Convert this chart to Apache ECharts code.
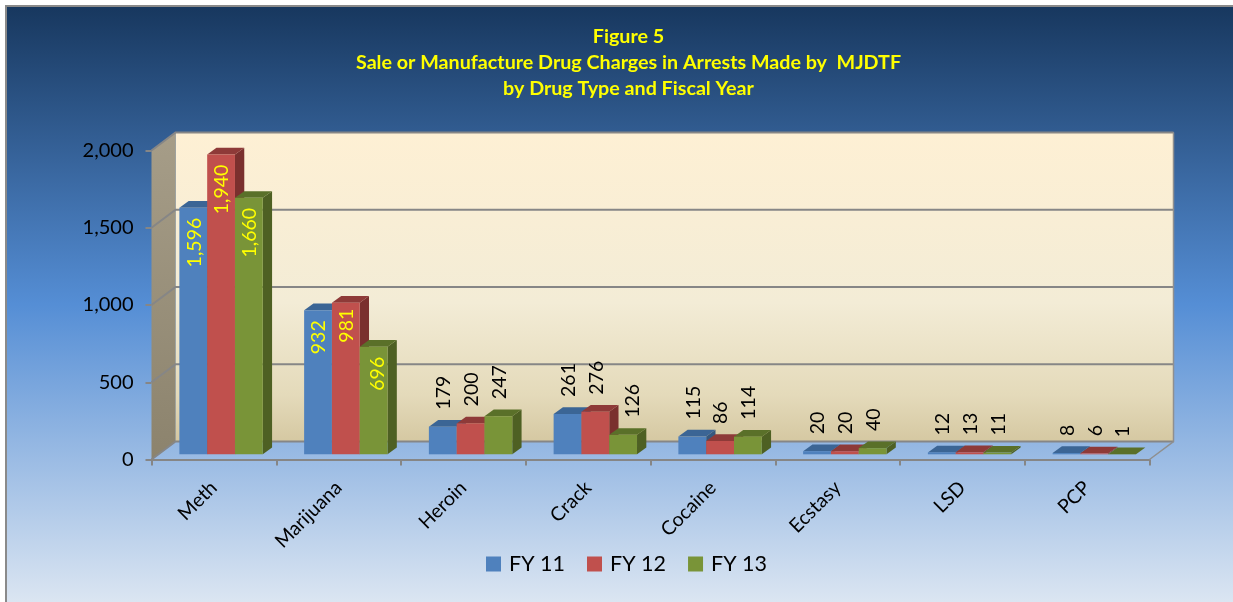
<!DOCTYPE html>
<html>
<head>
<meta charset="utf-8">
<style>html,body{margin:0;padding:0;background:#fff}#c{width:1233px;height:602px}</style>
<script src="https://cdn.jsdelivr.net/npm/echarts@6/dist/echarts.min.js"></script>
</head>
<body>
<div id="c"></div>
<script>
const categories = ['Meth','Marijuana','Heroin','Crack','Cocaine','Ecstasy','LSD','PCP'];
const fy11 = [1596,932,179,261,115,20,12,8];
const fy12 = [1940,981,200,276,86,20,13,6];
const fy13 = [1660,696,247,126,114,40,11,1];
const yTicks = [0,500,1000,1500,2000];
const seriesNames = ['FY 11','FY 12','FY 13'];

const FONT = 'Lato, "Open Sans", sans-serif';
const WALL_DX = 24, WALL_DY = 18;
const BAR_W = 27.8, BAR_DX = 7.2, BAR_DY = 5.2, SIDE_DX = 9.3, SIDE_DY = 6.7;
const GRAY = '#868686';
// hand-moved labels in the original: "series,category" -> [dx, dy]
const LABEL_NUDGE = {'2,3':[9,0],'2,1':[3,0],'1,1':[0,-4]};
const vgrad = (stops) => new echarts.graphic.LinearGradient(0,0,0,1,stops.map((c,i)=>({offset:c[0],color:c[1]})));

function poly(points, fill){
  return {type:'polygon',shape:{points},style:{fill,lineWidth:0}};
}

function renderWalls(params, api){
  const slot = api.size([1,0])[0];
  const x0 = api.coord([0,0])[0]-slot/2;
  const x1 = api.coord([categories.length-1,0])[0]+slot/2;
  const y0 = api.coord([0,0])[1];
  const yT = api.coord([0,2000])[1];
  const children = [];
  children.push(poly([[x0+WALL_DX,yT-WALL_DY],[x1+WALL_DX,yT-WALL_DY],[x1+WALL_DX,y0-WALL_DY],[x0+WALL_DX,y0-WALL_DY]],
    vgrad([[0,'#FEF0D4'],[0.55,'#F3ECD6'],[0.85,'#E4DABA'],[1,'#D5C8A2']])));
  children.push(poly([[x0,yT],[x0+WALL_DX,yT-WALL_DY],[x0+WALL_DX,y0-WALL_DY],[x0,y0]],
    vgrad([[0,'#A69D88'],[1,'#8C836D']])));
  yTicks.forEach(v=>{
    const y = api.coord([0,v])[1];
    children.push({type:'polyline',shape:{points:[[x0,y],[x0+WALL_DX,y-WALL_DY],[x1+WALL_DX,y-WALL_DY]]},
      style:{fill:null,stroke:GRAY,lineWidth:2}});
  });
  children.push({type:'polyline',shape:{points:[[x1,y0],[x1+WALL_DX,y0-WALL_DY],[x1+WALL_DX,yT-WALL_DY]]},
    style:{fill:null,stroke:'#8f8f8f',lineWidth:1.5}});
  return {type:'group',children};
}

const palettes = [
  {front:'#4F81BD',top:'#3B6595',side:'#35587F'},
  {front:'#C0504D',top:'#8E3A38',side:'#7A302E'},
  {front:'#799438',top:'#5A7029',side:'#4E6023'}
];

function makeBars(idx){
  const p = palettes[idx];
  return function(params, api){
    const i = api.value(0), v = api.value(1);
    const c = api.coord([i,v]), b = api.coord([i,0]);
    const xL = c[0]+BAR_DX+(idx-1.5)*BAR_W, xR = xL+BAR_W;
    const yB = b[1]-BAR_DY, yTop = c[1]-BAR_DY;
    const nudge = LABEL_NUDGE[idx+','+i]||[0,0];
    const xC = (xL+xR)/2+1+nudge[0];
    const inside = v>=500;
    return {type:'group',children:[
      poly([[xR,yTop],[xR+SIDE_DX,yTop-SIDE_DY],[xR+SIDE_DX,yB-SIDE_DY],[xR,yB]],p.side),
      poly([[xL,yTop],[xL+SIDE_DX,yTop-SIDE_DY],[xR+SIDE_DX,yTop-SIDE_DY],[xR,yTop]],p.top),
      poly([[xL,yTop],[xR,yTop],[xR,yB],[xL,yB]],p.front),
      {type:'text',z2:10,x:xC,y:(inside?yTop+10:yTop-17)+nudge[1],rotation:Math.PI/2,
        style:{text:v.toLocaleString('en-US'),font:'19.5px '+FONT,fill:inside?'#FFFF00':'#000',
          textAlign:inside?'right':'left',textVerticalAlign:'middle'}}
    ]};
  };
}

const chart = echarts.init(document.getElementById('c'),null,{renderer:'canvas'});
const valueSets = [fy11,fy12,fy13];
chart.setOption({
  animation:false,
  backgroundColor:'#fff',
  graphic:[{type:'rect',z:-1,left:5,top:5,shape:{width:1228,height:597},
    style:{fill:vgrad([[0,'#17375E'],[0.5,'#558ED5'],[1,'#DCE6F2']]),stroke:'#8a8a8a',lineWidth:2}}],
  title:{text:'Figure 5\nSale or Manufacture Drug Charges in Arrests Made by  MJDTF\nby Drug Type and Fiscal Year',
    left:623.5,top:19,textAlign:'center',
    textStyle:{color:'#FFFF00',fontFamily:FONT,fontWeight:'bold',fontSize:19.7,lineHeight:26}},
  legend:{data:seriesNames,left:481,top:548,icon:'rect',itemWidth:15,itemHeight:15,itemGap:22,
    textStyle:{color:'#000',fontFamily:FONT,fontSize:21.5,padding:[0,0,0,3]},selectedMode:false},
  grid:{left:151.5,top:150.5,width:998,height:309,containLabel:false},
  xAxis:{type:'category',data:categories,boundaryGap:true,
    axisLine:{show:true,onZero:false,lineStyle:{color:GRAY,width:2}},
    axisTick:{show:true,alignWithLabel:false,length:6,lineStyle:{color:GRAY,width:2}},
    axisLabel:{rotate:45,margin:25,color:'#000',fontFamily:FONT,fontSize:19.5,interval:0},
    splitLine:{show:false}},
  yAxis:{type:'value',min:0,max:2000,interval:500,
    axisLine:{show:false},
    axisTick:{show:true,length:6,lineStyle:{color:GRAY,width:2}},
    axisLabel:{margin:18,color:'#000',fontFamily:FONT,fontSize:20,
      formatter:v=>v.toLocaleString('en-US')},
    splitLine:{show:false}},
  series:[
    {type:'custom',name:'walls',z:1,silent:true,renderItem:renderWalls,data:[[0,0]],encode:{x:0,y:1},clip:false},
    ...seriesNames.map((n,k)=>({
      type:'custom',name:n,z:2+k,renderItem:makeBars(k),clip:false,
      itemStyle:{color:palettes[k].front},encode:{x:0,y:1},
      data:valueSets[k].map((v,i)=>[i,v])
    }))
  ]
});
</script>
</body>
</html>
